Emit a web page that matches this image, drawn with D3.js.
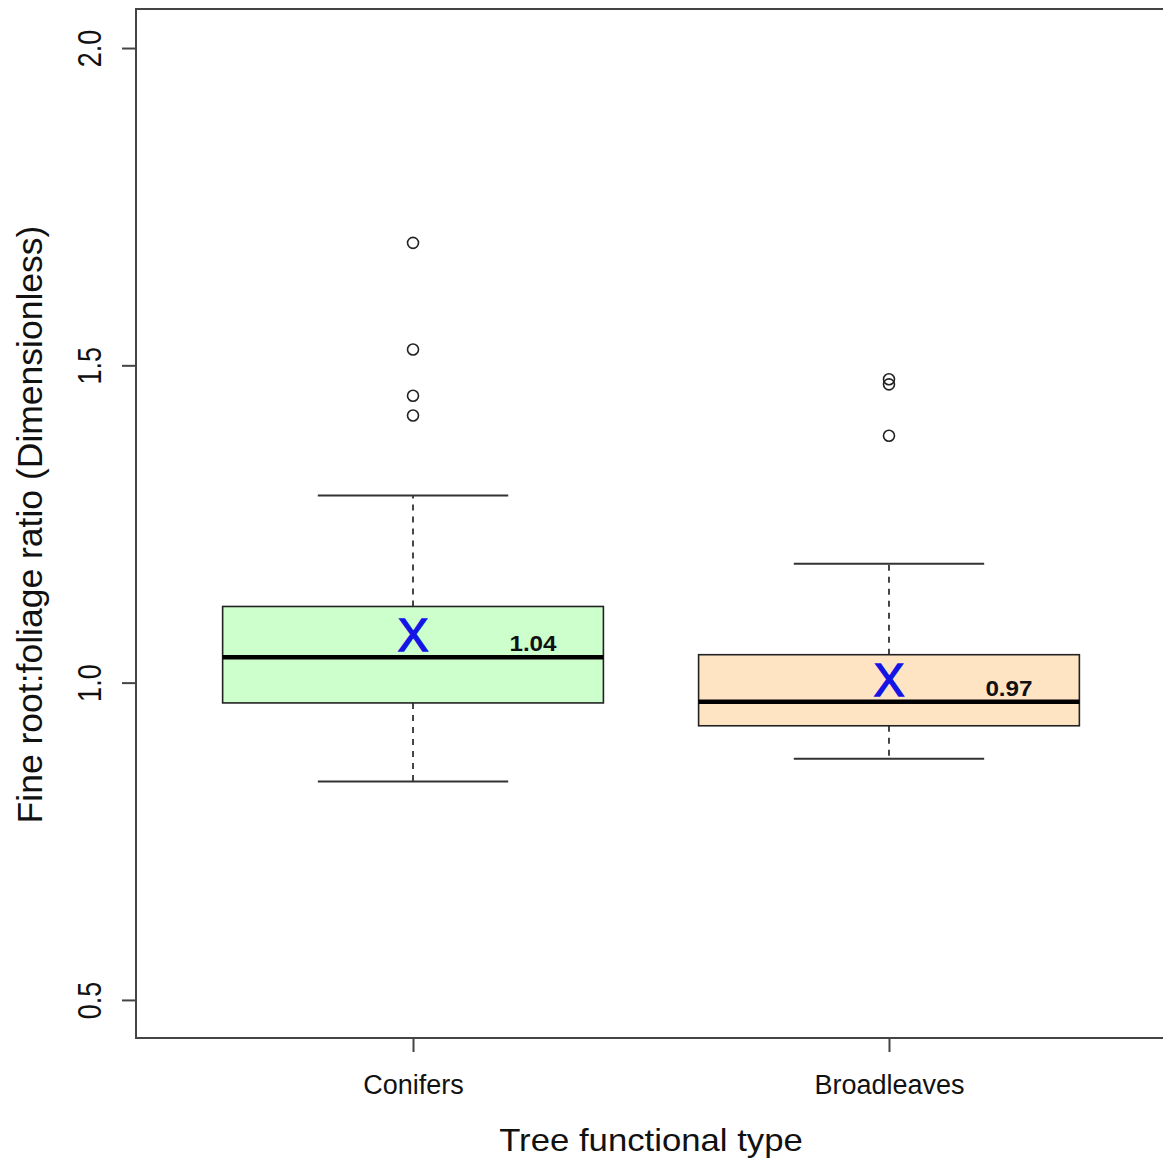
<!DOCTYPE html>
<html>
<head>
<meta charset="utf-8">
<script src="https://cdn.jsdelivr.net/npm/d3@7/dist/d3.min.js"></script>
<style>
  html, body { margin: 0; padding: 0; background: #fff; }
  svg { display: block; font-family: "Liberation Sans", Arial, Helvetica, sans-serif; }
</style>
</head>
<body>
<div id="chart"></div>
<script>
// Fine root : foliage ratio by tree functional type (box-and-whisker summary)
const categories   = ["Conifers", "Broadleaves"];
const whiskerLow   = [0.844, 0.880];
const lowerQuart   = [0.968, 0.932];
const medians      = [1.04, 0.97];
const upperQuart   = [1.12, 1.044];
const whiskerHigh  = [1.295, 1.1875];
const means        = [1.076, 1.005];
const outliers     = [[1.693, 1.525, 1.452, 1.421], [1.478, 1.470, 1.389]];
const boxFills     = ["#ccffcc", "#ffe4c4"];
const medianLabels = ["1.04", "0.97"];
const yTicks       = [0.5, 1.0, 1.5, 2.0];

const W = 1163, H = 1160;
const plot = { left: 136, right: 1166, top: 9, bottom: 1038 };

const svg = d3.select("#chart").append("svg")
  .attr("width", W).attr("height", H);

const x = d3.scaleLinear().domain([0.418, 2.582]).range([plot.left, plot.right]);
const y = d3.scaleLinear().domain([0.44, 2.0615]).range([plot.bottom, plot.top]);

const boxHalf = 0.4;   // half box width, in category units
const capHalf = 0.2;   // half whisker-cap width

const ink = "#1a1a1a";

// boxes
const g = svg.append("g");
categories.forEach((c, i) => {
  const cx = x(i + 1);
  const grp = g.append("g").attr("class", "box");

  // dashed whiskers
  grp.append("line")
    .attr("x1", cx).attr("x2", cx)
    .attr("y1", y(upperQuart[i])).attr("y2", y(whiskerHigh[i]))
    .attr("stroke", ink).attr("stroke-width", 1.6).attr("stroke-dasharray", "6,6");
  grp.append("line")
    .attr("x1", cx).attr("x2", cx)
    .attr("y1", y(lowerQuart[i])).attr("y2", y(whiskerLow[i]))
    .attr("stroke", ink).attr("stroke-width", 1.6).attr("stroke-dasharray", "6,6");

  // whisker caps
  [whiskerHigh[i], whiskerLow[i]].forEach(v => {
    grp.append("line")
      .attr("x1", x(i + 1 - capHalf)).attr("x2", x(i + 1 + capHalf))
      .attr("y1", y(v)).attr("y2", y(v))
      .attr("stroke", "#333").attr("stroke-width", 2);
  });

  // interquartile box
  grp.append("rect")
    .attr("x", x(i + 1 - boxHalf))
    .attr("y", y(upperQuart[i]))
    .attr("width", x(i + 1 + boxHalf) - x(i + 1 - boxHalf))
    .attr("height", y(lowerQuart[i]) - y(upperQuart[i]))
    .attr("fill", boxFills[i])
    .attr("stroke", "#222").attr("stroke-width", 1.6);

  // median
  grp.append("line")
    .attr("x1", x(i + 1 - boxHalf)).attr("x2", x(i + 1 + boxHalf))
    .attr("y1", y(medians[i])).attr("y2", y(medians[i]))
    .attr("stroke", "#000").attr("stroke-width", 4.5);

  // outliers
  grp.selectAll("circle.out").data(outliers[i]).enter().append("circle")
    .attr("class", "out")
    .attr("cx", cx).attr("cy", d => y(d)).attr("r", 5.5)
    .attr("fill", "none").attr("stroke", "#222").attr("stroke-width", 1.6);

  // mean marker
  grp.append("text")
    .attr("transform", `translate(${cx},${y(means[i]) + 16.5})`)
    .attr("text-anchor", "middle")
    .attr("font-size", 46)
    .attr("fill", "#1414e6")
    .attr("stroke", "#1414e6")
    .attr("stroke-width", 1.4)
    .text("X");

  // median value label
  grp.append("text")
    .attr("transform", `translate(${x(i + 1.252)},${y(medians[i]) - 6}) scale(1.1,1)`)
    .attr("text-anchor", "middle")
    .attr("font-size", 22)
    .attr("font-weight", "bold")
    .attr("fill", "#111")
    .text(medianLabels[i]);
});

// frame
svg.append("rect")
  .attr("x", plot.left).attr("y", plot.top)
  .attr("width", plot.right - plot.left).attr("height", plot.bottom - plot.top)
  .attr("fill", "none").attr("stroke", "#444").attr("stroke-width", 2);

// y axis
const yAxis = svg.append("g")
  .attr("transform", `translate(${plot.left},0)`)
  .call(d3.axisLeft(y).tickValues(yTicks).tickSize(14).tickSizeOuter(0)
    .tickFormat(d3.format(".1f")));
yAxis.select(".domain").remove();
yAxis.selectAll(".tick line").attr("stroke", "#444").attr("stroke-width", 2);
yAxis.selectAll(".tick text")
  .attr("x", null).attr("dy", null)
  .attr("transform", "translate(-35,0) scale(1.2,1) rotate(-90)")
  .attr("text-anchor", "middle")
  .attr("font-size", 27)
  .attr("font-family", "Liberation Sans, Arial, sans-serif")
  .attr("fill", "#111");

// x axis
const xAxis = svg.append("g")
  .attr("transform", `translate(0,${plot.bottom})`)
  .call(d3.axisBottom(x).tickValues([1, 2]).tickSize(14).tickSizeOuter(0)
    .tickFormat((d, i) => categories[i]));
xAxis.select(".domain").remove();
xAxis.selectAll(".tick line").attr("stroke", "#444").attr("stroke-width", 2);
xAxis.selectAll(".tick text")
  .attr("y", null).attr("dy", null)
  .attr("transform", "translate(0,56)")
  .attr("text-anchor", "middle")
  .attr("font-size", 27)
  .attr("font-family", "Liberation Sans, Arial, sans-serif")
  .attr("fill", "#111");

// axis titles
svg.append("text")
  .attr("transform", `translate(${(plot.left + plot.right) / 2},1151) scale(1.12,1)`)
  .attr("text-anchor", "middle")
  .attr("font-size", 31)
  .attr("fill", "#111")
  .text("Tree functional type");

svg.append("text")
  .attr("transform", `translate(42,${(plot.top + plot.bottom) / 2 + 1}) rotate(-90)`)
  .attr("text-anchor", "middle")
  .attr("font-size", 35.5)
  .attr("fill", "#111")
  .text("Fine root:foliage ratio (Dimensionless)");
</script>
</body>
</html>
